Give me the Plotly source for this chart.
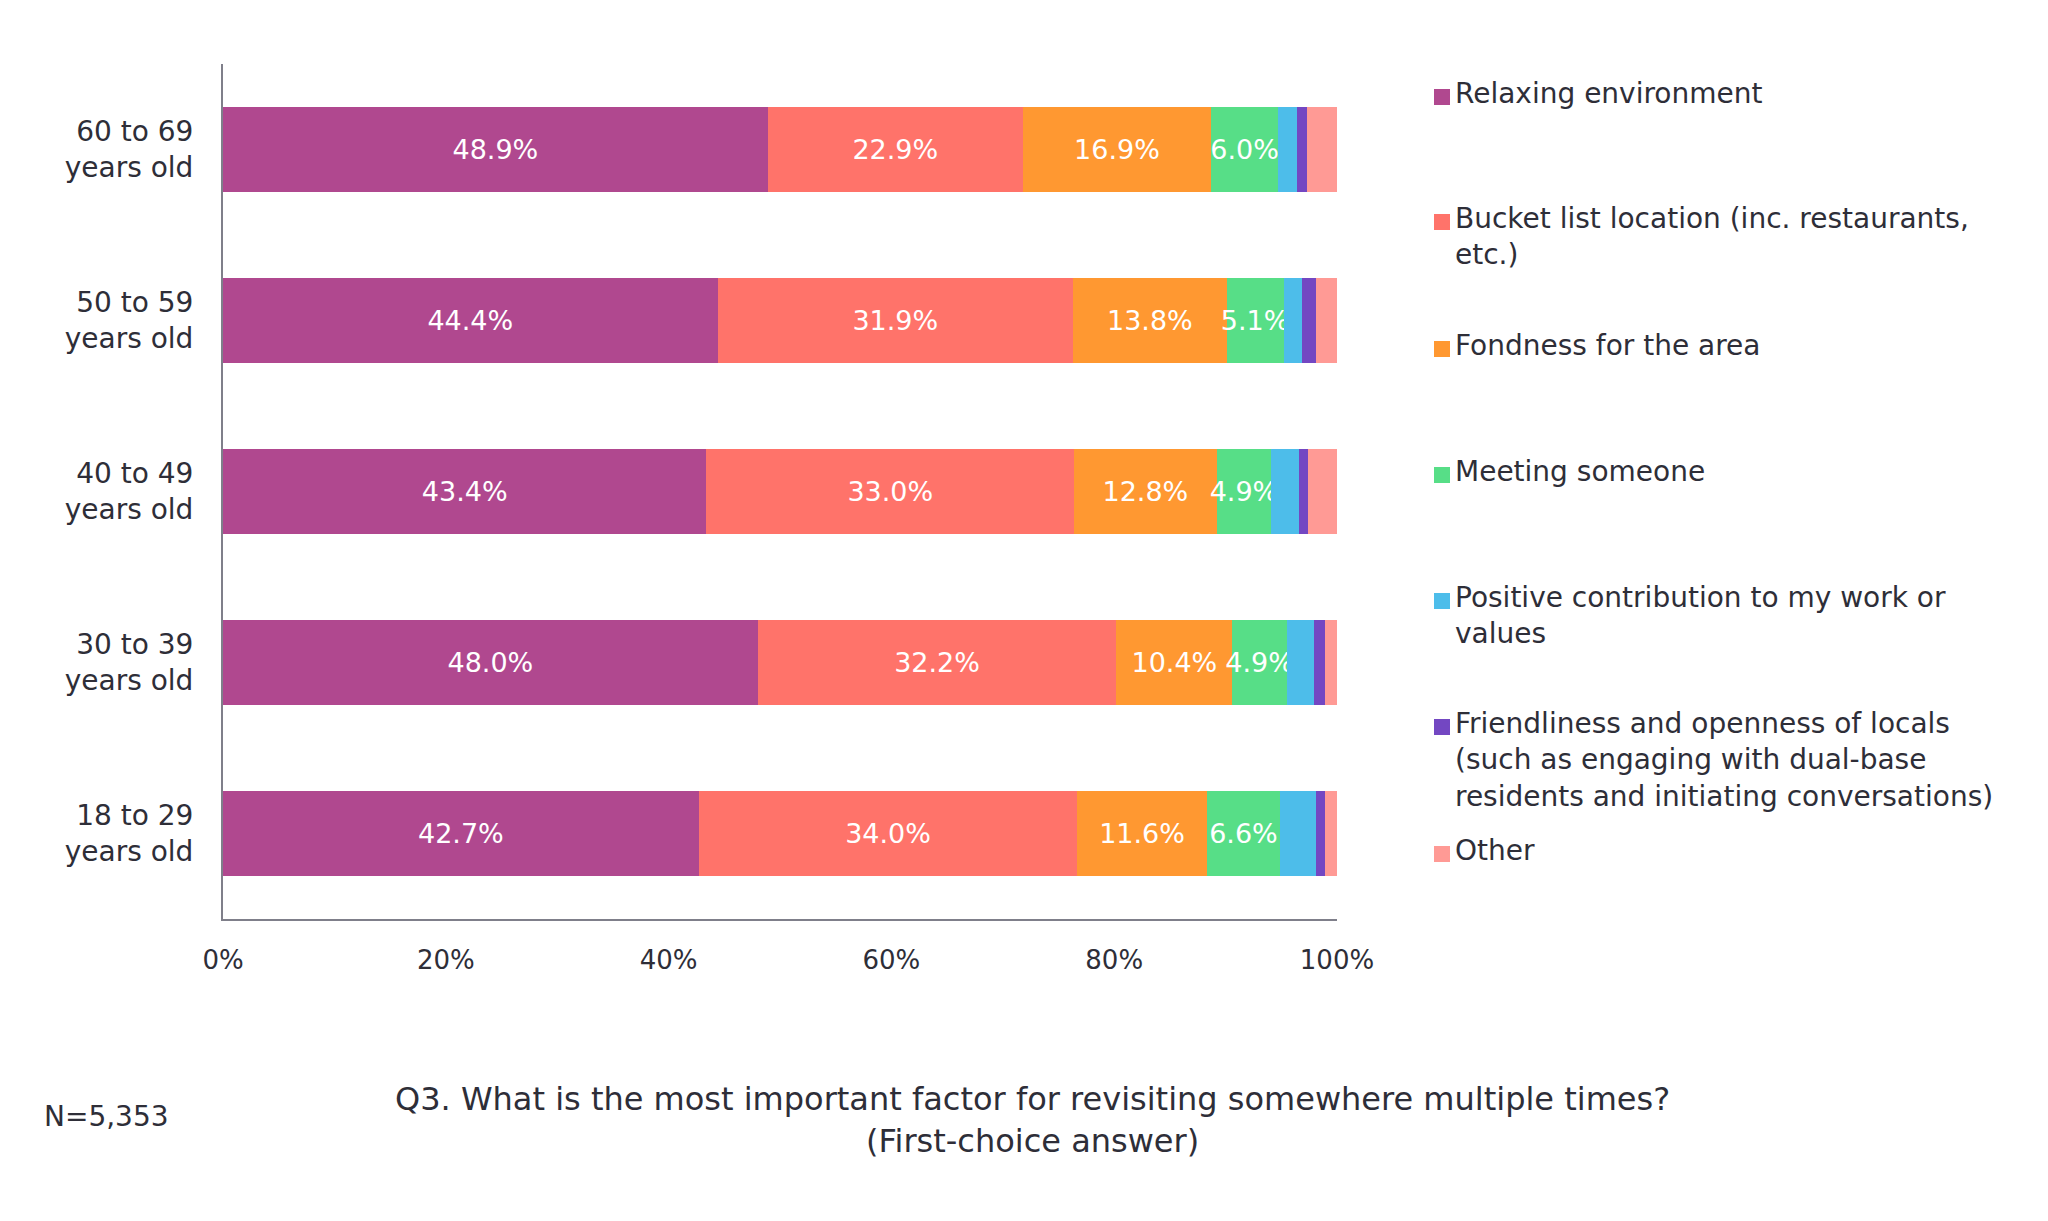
import plotly.graph_objects as go

# Age groups, top to bottom as shown
age_groups = ["60 to 69<br>years old", "50 to 59<br>years old", "40 to 49<br>years old",
              "30 to 39<br>years old", "18 to 29<br>years old"]

# Share of first-choice answers (%), per age group
relaxing = [48.9, 44.4, 43.4, 48.0, 42.7]
bucket_list = [22.9, 31.9, 33.0, 32.2, 34.0]
fondness = [16.9, 13.8, 12.8, 10.4, 11.6]
meeting = [6.0, 5.1, 4.9, 4.9, 6.6]
positive = [1.7, 1.7, 2.5, 2.4, 3.2]
friendliness = [0.9, 1.2, 0.8, 1.0, 0.8]
other = [2.7, 1.9, 2.6, 1.1, 1.1]

series_names = [
    "Relaxing environment",
    "Bucket list location (inc. restaurants,<br>etc.)",
    "Fondness for the area",
    "Meeting someone",
    "Positive contribution to my work or<br>values",
    "Friendliness and openness of locals<br>(such as engaging with dual-base<br>residents and initiating conversations)",
    "Other",
]
series_values = [relaxing, bucket_list, fondness, meeting, positive, friendliness, other]
series_colors = ["#B0488F", "#FF736A", "#FF9831", "#57DE87", "#4DBDEA", "#7347C2", "#FF9A95"]
labelled = [True, True, True, True, False, False, False]

x_ticks = [0, 20, 40, 60, 80, 100]

TEXT = "#2E2E38"
AXIS = "#7F7F8A"
FONT = "DejaVu Sans"

W, H = 2048, 1221
L, R, T, B = 215, 1329, 56, 911  # plot area in pixels


def px_x(px):
    return (px - L) / (R - L)


def px_y(py):
    return (B - py) / (B - T)


fig = go.Figure()
for name, vals, col, lab in zip(series_names, series_values, series_colors, labelled):
    fig.add_trace(go.Bar(
        y=age_groups,
        x=vals,
        name=name,
        orientation="h",
        marker=dict(color=col, line=dict(width=0)),
        text=[f"{v:.1f}%" for v in vals] if lab else None,
        textposition="inside" if lab else "none",
        insidetextanchor="middle",
        textangle=0,
        constraintext="none",
        textfont=dict(family=FONT, size=27, color="white"),
        showlegend=False,
        hoverinfo="x+name",
    ))

# hand-built legend so every entry keeps the same pitch
legend_rows = [89, 214, 341, 467, 593, 719, 846]
annotations = []
shapes = []
for name, col, row in zip(series_names, series_colors, legend_rows):
    shapes.append(dict(
        type="rect", xref="paper", yref="paper",
        x0=px_x(1426), x1=px_x(1442), y0=px_y(row + 8), y1=px_y(row - 8),
        fillcolor=col, line=dict(width=0),
    ))
    annotations.append(dict(
        text=name, xref="paper", yref="paper",
        x=px_x(1445), y=px_y(row - 22), xanchor="left", yanchor="top",
        align="left", showarrow=False,
        font=dict(family=FONT, size=28, color=TEXT),
    ))

annotations.append(dict(
    text="Q3. What is the most important factor for revisiting somewhere multiple times?<br>(First-choice answer)",
    xref="paper", yref="paper", x=px_x(1024), y=px_y(1112),
    xanchor="center", yanchor="middle", align="center", showarrow=False,
    font=dict(family=FONT, size=32, color=TEXT),
))
annotations.append(dict(
    text="N=5,353", xref="paper", yref="paper", x=px_x(34), y=px_y(1108),
    xanchor="left", yanchor="middle", showarrow=False,
    font=dict(family=FONT, size=28, color=TEXT),
))

fig.update_layout(
    width=W, height=H,
    barmode="stack",
    bargap=0.5,
    plot_bgcolor="white",
    paper_bgcolor="white",
    margin=dict(l=L, r=W - R, t=T, b=H - B, pad=0),
    font=dict(family=FONT, color=TEXT),
    annotations=annotations,
    shapes=shapes,
)
fig.update_xaxes(
    range=[0, 100], tickvals=x_ticks, ticktext=[f"{t}%" for t in x_ticks],
    showgrid=False, zeroline=False, showline=True, linecolor=AXIS, linewidth=2,
    ticks="", ticklabelstandoff=17, tickfont=dict(family=FONT, size=26, color=TEXT),
)
fig.update_yaxes(
    autorange="reversed", showgrid=False, zeroline=False,
    showline=True, linecolor=AXIS, linewidth=2,
    ticks="", ticklabelstandoff=22, tickfont=dict(family=FONT, size=28, color=TEXT),
)

fig.write_html("out.html")
